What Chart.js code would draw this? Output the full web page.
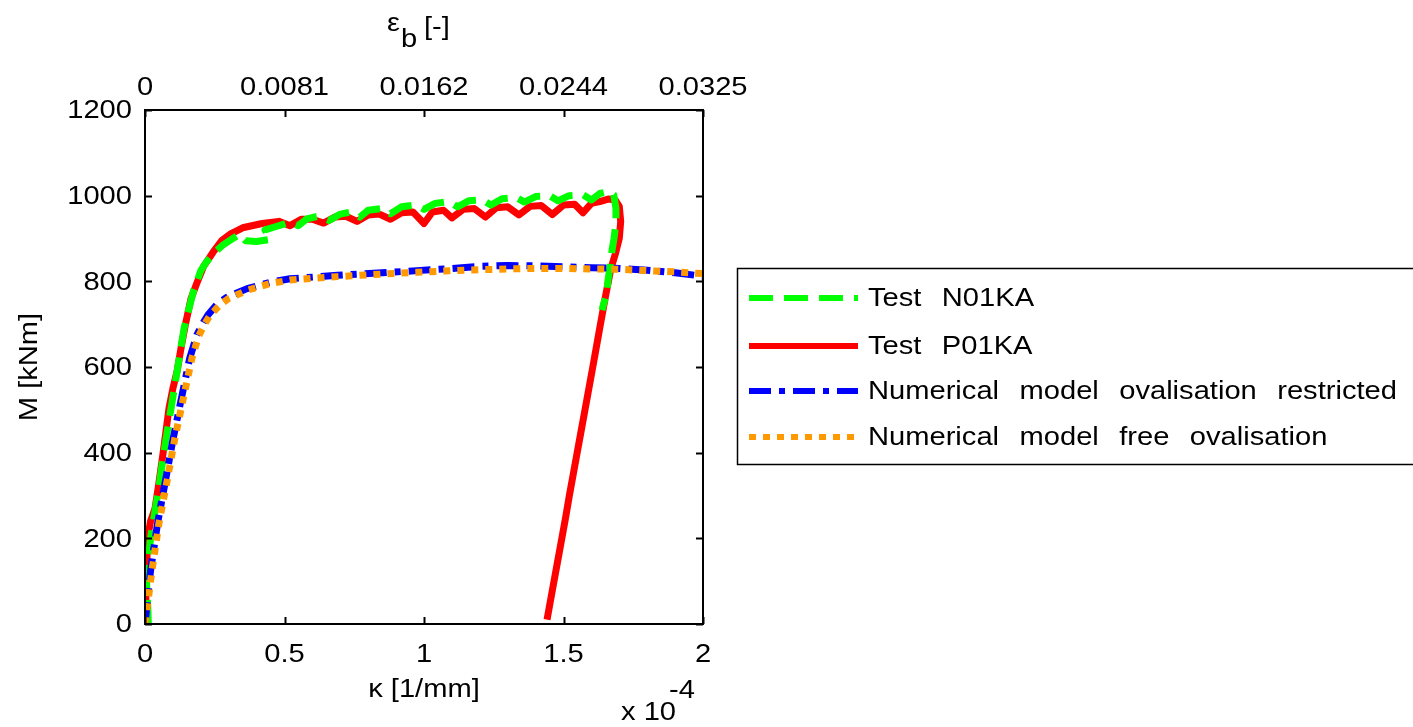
<!DOCTYPE html>
<html><head><meta charset="utf-8">
<script src="https://cdn.jsdelivr.net/npm/chart.js@4.4.1/dist/chart.umd.min.js"></script>
<style>html,body{margin:0;padding:0;background:#fff;}#wrap{width:1413px;height:727px;}</style>
</head><body><div id="wrap"><canvas id="c" width="1413" height="727"></canvas></div>
<script>
// ---------- data ----------
const kappaTicks = [0, 0.5, 1, 1.5, 2];                 // κ [1/mm] x 10^-4
const kappaTickLabels = ['0', '0.5', '1', '1.5', '2'];
const epsTickLabels = ['0', '0.0081', '0.0162', '0.0244', '0.0325']; // ε_b [-]
const momentTicks = [0, 200, 400, 600, 800, 1000, 1200]; // M [kNm]

const seriesNames = ['Test N01KA', 'Test P01KA', 'Numerical model ovalisation restricted', 'Numerical model free ovalisation'];

// Test N01KA  [κ, M]
const testN01KA = [[0.012,0],[0.01,40],[0.005,100],[0.012,150],[0.02,200],[0.035,260],[0.05,320],[0.065,390],[0.08,450],[0.095,510],[0.11,570],[0.125,630],[0.14,690],[0.155,730],[0.175,780],[0.2,825],[0.22,845],[0.25,868],[0.28,885],[0.31,898],[0.34,910],[0.36,895],[0.4,893],[0.45,898],[0.43,920],[0.47,928],[0.52,938],[0.55,930],[0.58,946],[0.62,952],[0.66,942],[0.7,957],[0.74,962],[0.77,950],[0.8,966],[0.85,970],[0.88,958],[0.92,974],[0.97,978],[1.0,968],[1.04,982],[1.09,986],[1.12,974],[1.16,988],[1.21,990],[1.24,978],[1.28,993],[1.33,996],[1.36,985],[1.4,998],[1.45,1000],[1.48,988],[1.52,1000],[1.57,1002],[1.6,990],[1.63,1005],[1.665,1010],[1.68,1002],[1.688,970],[1.688,936],[1.681,900],[1.674,873],[1.668,840],[1.659,800],[1.655,770],[1.645,750],[1.638,733]];

// Test P01KA  [κ, M]
const testP01KA = [[0,0],[0.003,60],[0.006,130],[0.009,200],[0.02,240],[0.036,270],[0.05,330],[0.065,400],[0.086,504],[0.1,550],[0.115,590],[0.128,640],[0.145,700],[0.165,760],[0.186,796],[0.21,835],[0.244,868],[0.275,895],[0.305,910],[0.35,925],[0.42,935],[0.48,940],[0.52,930],[0.56,945],[0.6,945],[0.64,936],[0.68,950],[0.72,952],[0.76,940],[0.8,955],[0.84,957],[0.88,945],[0.92,960],[0.96,962],[1.0,935],[1.03,962],[1.07,966],[1.1,948],[1.14,968],[1.18,970],[1.22,950],[1.26,972],[1.3,974],[1.34,955],[1.38,975],[1.42,977],[1.46,956],[1.5,978],[1.54,980],[1.57,960],[1.6,982],[1.63,986],[1.66,992],[1.685,990],[1.70,975],[1.705,940],[1.70,900],[1.685,862],[1.67,830],[1.661,800],[1.649,760],[1.638,720],[1.627,680],[1.616,640],[1.605,600],[1.591,550],[1.577,500],[1.563,450],[1.549,400],[1.535,350],[1.521,300],[1.508,250],[1.494,200],[1.48,150],[1.466,100],[1.452,50],[1.441,10]];

// Numerical model ovalisation restricted  [κ, M]
const numRestricted = [[0,0],[0.02,125],[0.045,235],[0.072,330],[0.1,430],[0.133,535],[0.16,620],[0.186,675],[0.21,705],[0.226,722],[0.26,748],[0.294,763],[0.366,783],[0.45,798],[0.52,806],[0.69,814],[0.85,820],[0.975,825],[1.1,830],[1.2,835],[1.3,837],[1.4,836],[1.5,834],[1.6,832],[1.7,830],[1.8,826],[1.9,820],[2.0,812]];

// Numerical model free ovalisation  [κ, M]
const numFree = [[0,0],[0.025,125],[0.05,235],[0.078,330],[0.106,430],[0.14,535],[0.168,620],[0.192,672],[0.215,702],[0.235,722],[0.27,746],[0.3,760],[0.37,780],[0.45,795],[0.52,803],[0.69,811],[0.85,817],[0.975,821],[1.1,825],[1.2,827],[1.3,829],[1.4,830],[1.5,830],[1.6,829],[1.7,828],[1.8,825],[1.9,822],[2.0,818]];

// ---------- chart ----------
const FONT = '"Liberation Sans", Arial, sans-serif';
const FS = 26;      // font size
const SX = 1.12;    // horizontal stretch of text (as in the reference)
const toPts = arr => arr.map(p => ({x: p[0], y: p[1]}));

const styles = [
  {color: '#00ff00', dash: [24, 11], width: 7},
  {color: '#ff0000', dash: [], width: 7},
  {color: '#0000ff', dash: [22, 8, 6, 8], width: 7},
  {color: '#ff9900', dash: [7, 7], width: 7}
];
const seriesData = [testN01KA, testP01KA, numRestricted, numFree];

function mkDs(i) {
  return {
    label: seriesNames[i], data: toPts(seriesData[i]), showLine: true,
    borderColor: styles[i].color, borderWidth: styles[i].width, borderDash: styles[i].dash,
    borderCapStyle: 'butt', borderJoinStyle: 'round',
    pointRadius: 0, fill: false, tension: 0
  };
}
// first dataset is drawn on top
const datasets = [mkDs(3), mkDs(2), mkDs(0), mkDs(1)];

const setTicks = vals => scale => { scale.ticks = vals.map(v => ({value: v})); };

function txt(ctx, s, x, y, align, wordSp) {
  ctx.save();
  ctx.font = FS + 'px ' + FONT;
  if (wordSp && 'wordSpacing' in ctx) ctx.wordSpacing = wordSp + 'px';
  ctx.translate(x, y);
  ctx.scale(SX, 1);
  ctx.textAlign = align;
  ctx.textBaseline = 'middle';
  ctx.fillText(s, 0, 0);
  ctx.restore();
}

const framePlugin = {
  id: 'frame',
  afterDatasetsDraw(chart) {
    const {ctx, chartArea: a, scales} = chart;
    ctx.save();
    ctx.strokeStyle = '#000'; ctx.lineWidth = 2; ctx.setLineDash([]);
    ctx.strokeRect(a.left, a.top, a.right - a.left, a.bottom - a.top);
    const L = 7;
    ctx.beginPath();
    kappaTicks.forEach(v => {
      const x = Math.round(scales.x.getPixelForValue(v)) + 0.5;
      ctx.moveTo(x, a.bottom); ctx.lineTo(x, a.bottom - L);
      ctx.moveTo(x, a.top); ctx.lineTo(x, a.top + L);
    });
    momentTicks.forEach(v => {
      const y = Math.round(scales.y.getPixelForValue(v)) + 0.5;
      ctx.moveTo(a.left, y); ctx.lineTo(a.left + L, y);
      ctx.moveTo(a.right, y); ctx.lineTo(a.right - L, y);
    });
    ctx.stroke();
    ctx.restore();
  },
  afterDraw(chart) {
    const {ctx, chartArea: a, scales} = chart;
    ctx.save();
    ctx.fillStyle = '#000';
    // tick labels
    kappaTicks.forEach((v, i) => {
      const x = scales.x.getPixelForValue(v);
      txt(ctx, kappaTickLabels[i], x, 655, 'center');
      txt(ctx, epsTickLabels[i], x, 88, 'center');
    });
    momentTicks.forEach(v => {
      txt(ctx, String(v), 132, scales.y.getPixelForValue(v) + 1, 'right');
    });
    // y title
    ctx.save();
    ctx.translate(30, (a.top + a.bottom) / 2);
    ctx.rotate(-Math.PI / 2);
    txt(ctx, 'M [kNm]', 0, 0, 'center');
    ctx.restore();
    // x title
    txt(ctx, '\u03ba [1/mm]', (a.left + a.right) / 2, 690, 'center');
    // x 10^-4
    txt(ctx, 'x 10', 621, 713, 'left');
    txt(ctx, '-4', 669, 691, 'left');
    // top title eps_b [-]
    txt(ctx, '\u03b5', 387, 24, 'left');
    txt(ctx, 'b', 401, 40, 'left');
    txt(ctx, '[-]', 424, 28, 'left');
    // legend
    ctx.lineWidth = 1.5; ctx.strokeStyle = '#000'; ctx.setLineDash([]);
    ctx.strokeRect(737.5, 268.5, 690, 196);
    const rowY = [298, 346, 391, 437];
    for (let i = 0; i < 4; i++) {
      const y = rowY[i];
      ctx.beginPath();
      ctx.strokeStyle = styles[i].color;
      ctx.lineWidth = 6; ctx.lineCap = 'butt';
      ctx.setLineDash(styles[i].dash);
      ctx.moveTo(749, y); ctx.lineTo(858, y);
      ctx.stroke();
      ctx.setLineDash([]);
      ctx.fillStyle = '#000';
      txt(ctx, seriesNames[i], 868, y + 1, 'left', 11);
    }
    ctx.restore();
  }
};

new Chart(document.getElementById('c'), {
  type: 'scatter',
  data: {datasets},
  options: {
    responsive: false, animation: false, devicePixelRatio: 1,
    layout: {padding: {left: 0, right: 710, top: 0, bottom: 0}},
    plugins: {legend: {display: false}, tooltip: {enabled: false}},
    scales: {
      x: {
        type: 'linear', position: 'bottom', min: 0, max: 2,
        afterBuildTicks: setTicks(kappaTicks),
        afterFit: s => { s.height = 103; },
        grid: {display: false, drawTicks: false}, border: {display: false},
        ticks: {display: false}
      },
      x2: {
        type: 'linear', position: 'top', min: 0, max: 2,
        afterBuildTicks: setTicks(kappaTicks),
        afterFit: s => { s.height = 110; },
        grid: {display: false, drawTicks: false}, border: {display: false},
        ticks: {display: false}
      },
      y: {
        type: 'linear', position: 'left', min: 0, max: 1200,
        afterBuildTicks: setTicks(momentTicks),
        afterFit: s => { s.width = 145; },
        grid: {display: false, drawTicks: false}, border: {display: false},
        ticks: {display: false}
      }
    }
  },
  plugins: [framePlugin]
});
</script>
</body></html>
